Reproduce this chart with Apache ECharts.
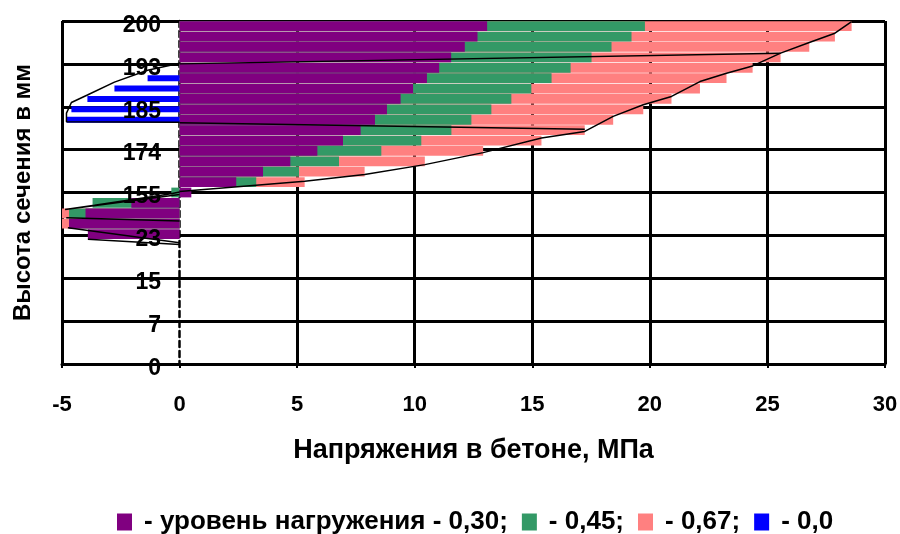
<!DOCTYPE html>
<html><head><meta charset="utf-8">
<script src="https://cdn.jsdelivr.net/npm/echarts@6/dist/echarts.min.js"></script>
<style>html,body{margin:0;padding:0;background:#fff}#c{width:900px;height:534px}</style>
</head><body><div id="c"></div>
<script>
// Height labels shown on the section-height axis (mm)
const heightLabels = ['0', '7', '15', '23', '155', '174', '185', '193', '200'];
// Layers of the section (rows drawn as bars, top layer first)
const rowCategories = ['1','2','3','4','5','6','7','8','9','10','11','12','13','14','15','16','17',
  '18','19','20','21','22','23','24','25','26','27','28','29','30','31','32','33'];
// Stress in concrete, MPa, per layer
const purple030 = [13.08, 12.67, 12.13, 11.55, 11.04, 10.52, 9.93, 9.40, 8.82, 8.31, 7.70, 6.95, 5.86, 4.71, 3.55, 2.41,
  0.5, -2.05, -4.0, -4.7, -3.9];
const green045 = [19.79, 19.22, 18.37, 17.52, 16.63, 15.82, 14.96, 14.11, 13.26, 12.41, 11.56, 10.28, 8.58, 6.78, 5.08, 3.26,
  -0.35, -3.7, -4.7, -4.7, null];
const pink067 = [28.58, 27.87, 26.78, 25.56, 24.37, 23.26, 22.13, 20.92, 19.72, 18.44, 17.23, 15.39, 12.91, 10.43, 7.87, 5.32,
  null, null, -5.0, -5.0, null];
const blue00 = [null, null, null, null, null, -1.36, -2.77, -3.92, -4.6, -4.8];
// Stress-distribution polylines: [stress MPa, layer position]
const pinkEnvelope = [[28.58, 0.05], [27.87, 1.14], [26.78, 2.0], [25.56, 3.0], [24.37, 4.19], [23.26, 4.87], [22.13, 5.65],
  [20.92, 7.04], [19.72, 7.81], [18.44, 8.9], [17.23, 10.3], [15.39, 10.91], [12.91, 12.28], [10.43, 13.4], [7.87, 14.33],
  [5.32, 14.95], [0, 15.9]];
const jumpLine1 = [[0, 4.0], [25.56, 3.0]];
const jumpLine2 = [[0, 9.49], [17.23, 10.1]];
const blueEnvelope = [[0, 3.95], [-1.36, 4.6], [-2.77, 5.7], [-3.92, 6.9], [-4.6, 7.6], [-4.81, 8.6], [-4.81, 9.4], [0, 9.45]];
const lowerLineA = [[0, 15.95], [-0.36, 16.12], [-3.62, 17.18], [-4.87, 17.58], [0, 16.19]];
const lowerLineB = [[-4.82, 18.35], [0, 18.67]];
const lowerLineC = [[-4.75, 19.28], [0, 20.68]];
const lowerLineD = [[-3.9, 20.37], [0, 20.84]];

const seriesNames = ['- уровень нагружения - 0,30;', '- 0,45;', '- 0,67;', '- 0,0'];
const FONT = 'Liberation Sans';

const chart = echarts.init(document.getElementById('c'), null, {renderer: 'canvas'});

function lineSeries(data) {
  return {
    type: 'line', xAxisIndex: 0, yAxisIndex: 2, data: data, symbol: 'none', silent: true,
    lineStyle: {color: '#000', width: 1.5}, z: 5, animation: false
  };
}
const barCommon = {type: 'bar', xAxisIndex: 0, yAxisIndex: 0, barGap: '-100%', barCategoryGap: '6%', animation: false};
const heightFormatter = function (v) { return '{h|' + heightLabels[Math.round(v)] + '}'; };

chart.setOption({
  animation: false,
  grid: {left: 62, right: 15, top: 21, bottom: 170, containLabel: false, outerBoundsMode: 'none'},
  legend: {
    data: seriesNames, left: 117, top: 509, padding: 0, itemWidth: 15, itemHeight: 17, itemGap: 14, icon: 'rect',
    textStyle: {fontSize: 26, fontWeight: 'bold', fontFamily: FONT, color: '#000', padding: [0, 0, 0, 7]}
  },
  xAxis: [{
    type: 'value', min: -5, max: 30, interval: 5,
    name: 'Напряжения в бетоне, МПа', nameLocation: 'middle', nameGap: 73,
    nameTextStyle: {fontSize: 27, fontWeight: 'bold', fontFamily: FONT, color: '#000'},
    axisLine: {show: true, onZero: false, lineStyle: {color: '#000', width: 3}},
    axisTick: {show: true, length: 4, lineStyle: {color: '#000', width: 2}},
    axisLabel: {fontSize: 22, fontWeight: 'bold', fontFamily: FONT, color: '#000', margin: 30},
    splitLine: {show: true, lineStyle: {color: ['#000', 'rgba(0,0,0,0)', '#000', '#000', '#000', '#000', '#000', '#000'], width: 3}}
  }],
  yAxis: [
    {type: 'category', data: rowCategories, inverse: true, show: true,
      axisLine: {show: true, onZero: true, lineStyle: {color: '#000', width: 2.5, type: [6, 4]}},
      axisTick: {show: false}, axisLabel: {show: false}, splitLine: {show: false}},
    {
      // grid lines of the height axis (under the bars)
      type: 'value', min: 0, max: 8, interval: 1, position: 'left',
      name: 'Высота сечения в мм', nameLocation: 'middle', nameGap: 27, nameMoveOverlap: false,
      nameTextStyle: {fontSize: 24, fontWeight: 'bold', fontFamily: FONT, color: '#000'},
      axisLine: {show: false, onZero: false}, axisTick: {show: false}, axisLabel: {show: false},
      splitLine: {show: true, lineStyle: {color: '#000', width: 3}}
    },
    {type: 'value', min: 0, max: 32, inverse: true, show: false, axisLine: {onZero: false}, splitLine: {show: false}},
    {type: 'category', data: rowCategories, inverse: true, show: false, axisLine: {onZero: false}},
    {
      // tick labels of the height axis (above the bars)
      type: 'value', min: 0, max: 8, interval: 1, position: 'left', z: 10,
      axisLine: {show: false, onZero: false}, axisTick: {show: false}, splitLine: {show: false},
      axisLabel: {inside: true, align: 'right', fontSize: 23, fontWeight: 'bold', fontFamily: FONT, color: '#000',
        margin: 99, formatter: heightFormatter,
        rich: {h: {fontSize: 23, fontWeight: 'bold', fontFamily: FONT, color: '#000', padding: [9, 0, 0, 0]}}}
    }
  ],
  series: [
    Object.assign({}, barCommon, {name: seriesNames[2], data: pink067, itemStyle: {color: '#FF8080'}}),
    Object.assign({}, barCommon, {name: seriesNames[1], data: green045, itemStyle: {color: '#339966'}}),
    Object.assign({}, barCommon, {name: seriesNames[0], data: purple030, itemStyle: {color: '#800080'}}),
    {type: 'bar', name: seriesNames[3], xAxisIndex: 0, yAxisIndex: 3, data: blue00, barWidth: '58%',
      itemStyle: {color: '#0000FF'}, animation: false},
    lineSeries(pinkEnvelope), lineSeries(jumpLine1), lineSeries(jumpLine2), lineSeries(blueEnvelope),
    lineSeries(lowerLineA), lineSeries(lowerLineB), lineSeries(lowerLineC), lineSeries(lowerLineD)
  ]
});
</script></body></html>
